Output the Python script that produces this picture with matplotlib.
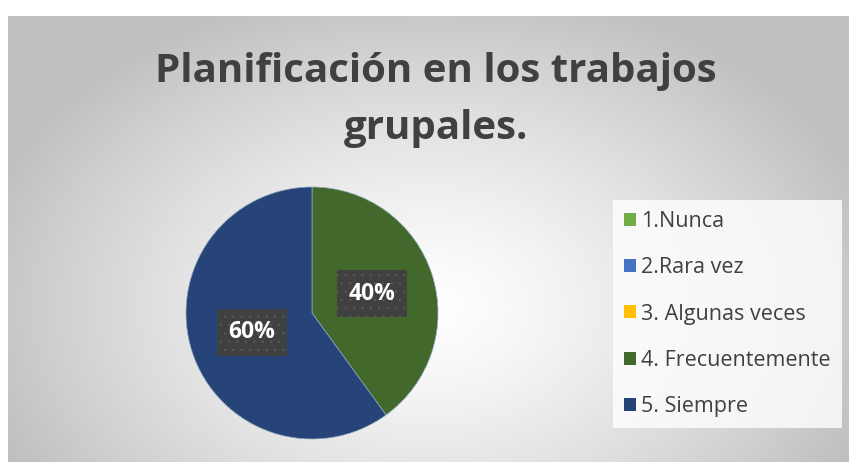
import numpy as np
import matplotlib
matplotlib.use("Agg")
import matplotlib.pyplot as plt
from matplotlib.patches import Patch

categories = ["1.Nunca", "2.Rara vez", "3. Algunas veces", "4. Frecuentemente", "5. Siempre"]
values = [0, 0, 0, 40, 60]
colors = ["#70AD47", "#4472C4", "#FFC000", "#43682B", "#264478"]
title = "Planificación en los trabajos\ngrupales."

W, H = 849, 462
plt.rcParams["hatch.linewidth"] = 0.5
fig = plt.figure(figsize=(W / 100, H / 100), dpi=100)
fig.patch.set_facecolor("white")

# background radial gradient (chart area)
bg = fig.add_axes([8 / W, 0, 1 - 8 / W, (H - 16) / H])
bg.set_axis_off()
nx, ny = 841, 446
xx, yy = np.meshgrid(np.arange(nx), np.arange(ny))
cx, cy = 420, 290
d = np.sqrt(((xx - cx) / 470) ** 2 + ((yy - cy) / 330) ** 2)
d = np.clip(d, 0, 1)
val = 1.0 - 0.25 * d ** 1.3
img = np.dstack([val, val, val])
bg.imshow(img, aspect="auto", interpolation="bilinear", extent=[0, 1, 0, 1])
bg.set_xlim(0, 1)
bg.set_ylim(0, 1)

font = ["Open Sans", "DejaVu Sans"]

fig.text(436 / W, 1 - 100 / H, title, ha="center", va="center", fontsize=29,
         fontweight="bold", color="#404040", family=font, linespacing=1.6)

# pie
pcx, pcy, r = 312, 313, 126
ax = fig.add_axes([(pcx - r) / W, (H - pcy - r) / H, 2 * r / W, 2 * r / H])
ax.set_facecolor("none")

def fmt(p):
    return f"{p:.0f}%" if p > 0.5 else ""

wedges, texts, autotexts = ax.pie(values, colors=colors, startangle=90, counterclock=False,
                                  autopct=fmt, pctdistance=0.5, radius=1.0,
                                  wedgeprops=dict(linewidth=0.5, edgecolor="#8fa8c0"))
for t in autotexts:
    t.set_color("white")
    t.set_fontsize(16.5)
    t.set_fontweight("bold")
    t.set_family(font)
    if t.get_text():
        t.set_bbox(dict(boxstyle="square,pad=0.5", fc="#404040", ec="#585858", lw=0, hatch=".."))
ax.set_xlim(-1, 1)
ax.set_ylim(-1, 1)
ax.set_aspect("equal")

handles = [Patch(facecolor=c, edgecolor="none") for c in colors]
leg = fig.legend(handles, categories, loc="upper left", bbox_to_anchor=(613 / W, 1 - 200 / H),
                 frameon=True, fancybox=False, prop=dict(family=font, size=15.5),
                 handlelength=0.55, handleheight=0.55, handletextpad=0.25,
                 labelspacing=1.17, borderpad=0.52, borderaxespad=0)
leg.get_frame().set_facecolor((1, 1, 1, 0.2))
leg.get_frame().set_edgecolor("none")
for t in leg.get_texts():
    t.set_color("#404040")

fig.savefig("out.png", dpi=100)
